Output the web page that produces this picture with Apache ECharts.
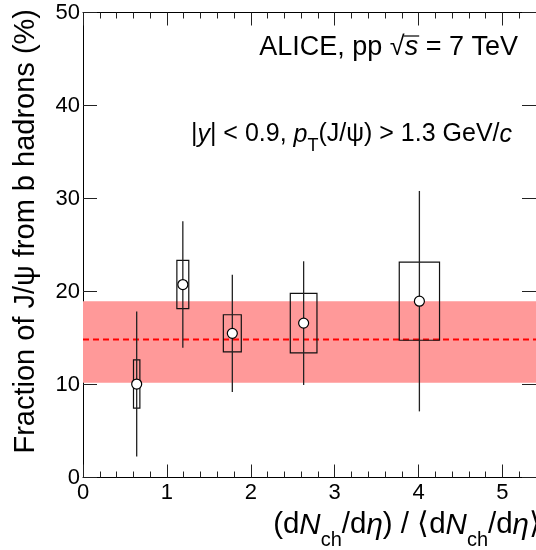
<!DOCTYPE html>
<html><head><meta charset="utf-8">
<script src="https://cdn.jsdelivr.net/npm/echarts@6/dist/echarts.min.js"></script>
<style>html,body{margin:0;padding:0;background:#fff}#c{width:536px;height:550px}</style>
</head><body><div id="c"></div>
<script>
// ---- data ----
const xValues = [0.64, 1.19, 1.78, 2.63, 4.01];
const fractionValues = [10.05, 20.75, 15.5, 16.6, 18.96];
const statErrors = [7.8, 6.8, 6.3, 6.65, 11.85];
const systErrors = [2.6, 2.6, 2.0, 3.2, 4.2];
const xHalfWidths = [0.038, 0.071, 0.107, 0.159, 0.24];
const averageValue = 14.85;
const averageLow = 10.2;
const averageHigh = 18.96;
const xTickLabels = [0, 1, 2, 3, 4, 5];
const yTickLabels = [0, 10, 20, 30, 40, 50];
const xMinorTicks = [];
for (let i = 1; i < 27; i++) { if (i % 5 !== 0) xMinorTicks.push(+(i * 0.2).toFixed(1)); }

const X_MIN = 0, X_MAX = 5.4, Y_MIN = 0, Y_MAX = 50;
const FONT = '"Liberation Sans", Arial, Helvetica, sans-serif';

const chart = echarts.init(document.getElementById('c'), null, { renderer: 'canvas' });

function xAxisDef(pos, ticks, len, showLine, showLabel) {
  return {
    type: 'value', position: pos, min: X_MIN, max: X_MAX, gridIndex: 0,
    axisLine: { show: showLine, onZero: false, lineStyle: { color: '#000', width: 1 } },
    axisTick: { show: true, inside: true, length: len, customValues: ticks, lineStyle: { color: '#222', width: 1 } },
    axisLabel: { show: showLabel, customValues: xTickLabels, color: '#000', fontSize: 22, fontFamily: FONT, margin: 4 },
    splitLine: { show: false }
  };
}
function yAxisDef(pos, showLabel) {
  return {
    type: 'value', position: pos, min: Y_MIN, max: Y_MAX, interval: 10, gridIndex: 0,
    axisLine: { show: true, onZero: false, lineStyle: { color: '#000', width: 1 } },
    axisTick: { show: true, inside: true, length: 14, customValues: yTickLabels, lineStyle: { color: '#222', width: 1 } },
    axisLabel: { show: showLabel, customValues: yTickLabels, color: '#000', fontSize: 22, fontFamily: FONT, margin: 3, showMinLabel: true, showMaxLabel: true },
    splitLine: { show: false }
  };
}

const ptsData = xValues.map((x, i) => [x, fractionValues[i], statErrors[i], systErrors[i], xHalfWidths[i]]);

// text styles
const l1Main = { fontSize: 27, lineHeight: 27, verticalAlign: 'top', fontFamily: FONT, color: '#000' };
const l1Ital = Object.assign({}, l1Main, { fontStyle: 'italic' });
const l2Main = { fontSize: 25, lineHeight: 25, verticalAlign: 'top', fontFamily: FONT, color: '#000' };
const l2Ital = Object.assign({}, l2Main, { fontStyle: 'italic' });
const l2Sub = { fontSize: 18, lineHeight: 33.4, verticalAlign: 'bottom', fontFamily: FONT, color: '#000' };

const mctx = document.createElement('canvas').getContext('2d');
function tw(t, font) { mctx.font = font; return mctx.measureText(t).width; }
const line1Right = 518;
const sEnd = line1Right - tw(' = 7 TeV', '27px ' + FONT);
const sStart = sEnd - tw('s', 'italic 27px ' + FONT);

const xtMain = { fontSize: 29.5, lineHeight: 29.5, verticalAlign: 'top', fontFamily: FONT, color: '#000' };
const xtItal = Object.assign({}, xtMain, { fontStyle: 'italic' });
const xtSub = { fontSize: 20, lineHeight: 40.6, verticalAlign: 'bottom', fontFamily: FONT, color: '#000' };

const option = {
  animation: false,
  backgroundColor: '#fff',
  grid: { left: 83, right: 0, top: 12.5, bottom: 72.5, containLabel: false },
  xAxis: [
    xAxisDef('bottom', xTickLabels, 13, true, true),
    xAxisDef('bottom', xMinorTicks, 6, false, false),
    xAxisDef('top', xTickLabels, 13, true, false),
    xAxisDef('top', xMinorTicks, 6, false, false)
  ],
  yAxis: [yAxisDef('left', true), yAxisDef('right', false)],
  series: [
    {
      name: 'band', type: 'custom', xAxisIndex: 0, yAxisIndex: 0, silent: true, z: 1,
      data: [[averageLow, averageHigh]],
      renderItem: function (params, api) {
        const p1 = api.coord([X_MIN, api.value(1)]);
        const p2 = api.coord([X_MAX, api.value(0)]);
        return { type: 'rect', shape: { x: p1[0], y: p1[1], width: p2[0] - p1[0], height: p2[1] - p1[1] },
                 style: { fill: '#ff9999' } };
      }
    },
    {
      name: 'mean', type: 'custom', xAxisIndex: 0, yAxisIndex: 0, silent: true, z: 2,
      data: [[averageValue]],
      renderItem: function (params, api) {
        const p1 = api.coord([X_MIN, api.value(0)]);
        const p2 = api.coord([X_MAX, api.value(0)]);
        return { type: 'line', shape: { x1: p1[0], y1: p1[1], x2: p2[0], y2: p2[1] },
                 style: { stroke: '#ff0000', lineWidth: 2, lineDash: [6, 4] } };
      }
    },
    {
      name: 'syst', type: 'custom', xAxisIndex: 0, yAxisIndex: 0, silent: true, z: 3,
      data: ptsData,
      renderItem: function (params, api) {
        const x = api.value(0), y = api.value(1), s = api.value(3), hw = api.value(4);
        const p1 = api.coord([x - hw, y + s]);
        const p2 = api.coord([x + hw, y - s]);
        const e1 = api.coord([x, y + api.value(2)]);
        const e2 = api.coord([x, y - api.value(2)]);
        return { type: 'group', children: [
          { type: 'rect', shape: { x: p1[0], y: p1[1], width: p2[0] - p1[0], height: p2[1] - p1[1] },
            style: { fill: 'none', stroke: '#111', lineWidth: 1.2 } },
          { type: 'line', shape: { x1: e1[0], y1: e1[1], x2: e2[0], y2: e2[1] },
            style: { stroke: '#222', lineWidth: 1.3 } }
        ] };
      }
    },
    {
      name: 'points', type: 'scatter', xAxisIndex: 0, yAxisIndex: 0, z: 5,
      data: ptsData.map(d => [d[0], d[1]]),
      symbol: 'circle', symbolSize: 10,
      itemStyle: { color: '#fff', borderColor: '#000', borderWidth: 1.2, opacity: 1 }
    }
  ],
  graphic: [
    {
      type: 'text', x: line1Right, y: 34.4, z: 10,
      style: {
        text: '{n|ALICE, pp √}{i|s}{n| = 7 TeV}',
        align: 'right', verticalAlign: 'top',
        rich: { n: l1Main, i: l1Ital }
      }
    },
    {
      type: 'line', z: 10,
      shape: { x1: sStart - 1, y1: 36, x2: sEnd + 1, y2: 36 },
      style: { stroke: '#000', lineWidth: 1.2 }
    },
    {
      type: 'text', x: 512, y: 122.1, z: 10,
      style: {
        text: '{n||}{i|y}{n|| < 0.9, }{i|p}{s|T}{n|(J/ψ) > 1.3 GeV/}{i|c}',
        align: 'right', verticalAlign: 'top',
        rich: { n: l2Main, i: l2Ital, s: l2Sub }
      }
    },
    {
      type: 'text', x: 541, y: 510.3, z: 10,
      style: {
        text: '{n|(d}{i|N}{s|ch}{n|/d}{i|η}{n|) / ⟨d}{i|N}{s|ch}{n|/d}{i|η}{n|⟩}',
        align: 'right', verticalAlign: 'top',
        rich: { n: xtMain, i: xtItal, s: xtSub }
      }
    },
    {
      type: 'text', x: 25.5, y: 9, rotation: Math.PI / 2, z: 10,
      style: {
        text: 'Fraction of J/ψ from b hadrons (%)',
        align: 'right', verticalAlign: 'middle',
        fontSize: 29, fontFamily: FONT, fill: '#000'
      }
    }
  ]
};
chart.setOption(option);
</script>
</body></html>
